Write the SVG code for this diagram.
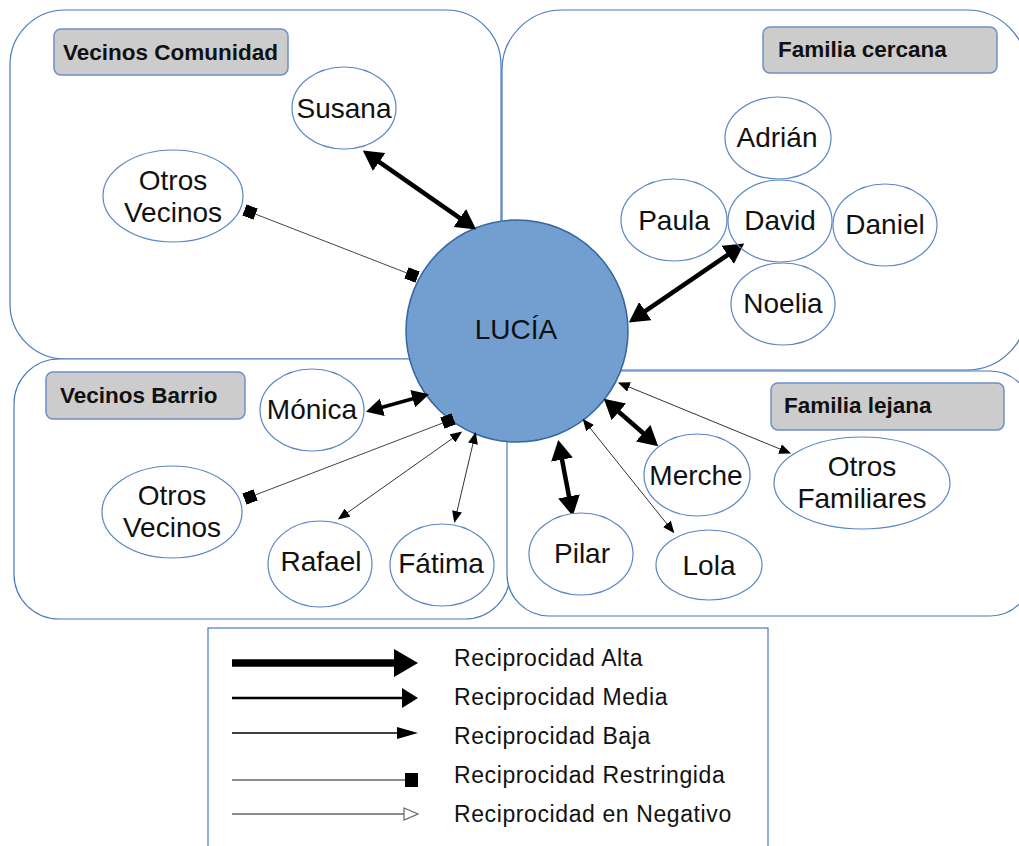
<svg xmlns="http://www.w3.org/2000/svg" width="1019" height="846" viewBox="0 0 1019 846">
<style>
.panel{fill:#fff;stroke:#4a78be;stroke-width:1.2}
.tag{fill:#cccccc;stroke:#6d8fc7;stroke-width:1.5}
.tagt{font-family:"Liberation Sans",Arial,sans-serif;font-weight:bold;font-size:22.5px;fill:#111}
.node{fill:#fff;stroke:#5b86c5;stroke-width:1.2}
.nt{font-family:"Liberation Sans",Arial,sans-serif;font-size:28px;fill:#111;text-anchor:middle}
.lt{font-family:"Liberation Sans",Arial,sans-serif;font-size:23px;letter-spacing:0.6px;fill:#111}
.alta{stroke:#000;stroke-width:4.5;fill:none;marker-start:url(#hAlta);marker-end:url(#hAlta)}
.media{stroke:#000;stroke-width:3.5;fill:none;marker-start:url(#hMed);marker-end:url(#hMed)}
.baja{stroke:#333;stroke-width:1;fill:none;marker-start:url(#hBaja);marker-end:url(#hBaja)}
.restr{stroke:#444;stroke-width:1;fill:none;marker-start:url(#sq);marker-end:url(#sq)}
</style>
<defs>
<marker id="hAlta" viewBox="0 0 20 22" markerWidth="20" markerHeight="22" refX="1" refY="11" orient="auto-start-reverse" markerUnits="userSpaceOnUse"><path d="M0,0 L20,11 L0,22 z" fill="#000"/></marker>
<marker id="hMed" viewBox="0 0 17 18" markerWidth="17" markerHeight="18" refX="1" refY="9" orient="auto-start-reverse" markerUnits="userSpaceOnUse"><path d="M0,0 L17,9 L0,18 z" fill="#000"/></marker>
<marker id="hBaja" viewBox="0 0 12 10" markerWidth="12" markerHeight="10" refX="1" refY="5" orient="auto-start-reverse" markerUnits="userSpaceOnUse"><path d="M0,0 L12,5 L0,10 z" fill="#000"/></marker>
<marker id="sq" viewBox="0 0 12 12" markerWidth="12" markerHeight="12" refX="6" refY="6" orient="auto" markerUnits="userSpaceOnUse"><rect x="0" y="0" width="12" height="12" fill="#000"/></marker>
<marker id="lAlta" viewBox="0 0 24 28" markerWidth="24" markerHeight="28" refX="1" refY="14" orient="auto" markerUnits="userSpaceOnUse"><path d="M0,0 L24,14 L0,28 z" fill="#000"/></marker>
<marker id="lMed" viewBox="0 0 16 20" markerWidth="16" markerHeight="20" refX="1" refY="10" orient="auto" markerUnits="userSpaceOnUse"><path d="M0,0 L16,10 L0,20 z" fill="#000"/></marker>
<marker id="lBaja" viewBox="0 0 21 12" markerWidth="21" markerHeight="12" refX="1" refY="6" orient="auto" markerUnits="userSpaceOnUse"><path d="M0,0 L21,6 L0,12 z" fill="#000"/></marker>
<marker id="lSq" viewBox="0 0 13 14" markerWidth="13" markerHeight="14" refX="0" refY="7" orient="auto" markerUnits="userSpaceOnUse"><rect x="0" y="0" width="13" height="14" fill="#000"/></marker>
<marker id="lNeg" viewBox="-1 -1 16 14" markerWidth="16" markerHeight="14" refX="0" refY="6" orient="auto" markerUnits="userSpaceOnUse"><path d="M0,0 L14,6 L0,12 z" fill="#fff" stroke="#666" stroke-width="1.2"/></marker>
</defs>
<rect width="1019" height="846" fill="#fff"/>

<g id="panels">
  <rect class="panel" x="10" y="10" width="491" height="349" rx="55"/>
  <rect class="panel" x="502" y="10" width="525" height="360" rx="60"/>
  <rect class="panel" x="14" y="359" width="496" height="260" rx="45"/>
  <rect class="panel" x="507" y="371" width="525" height="245" rx="42"/>
</g>

<g id="tag-vecinos-comunidad">
  <rect class="tag" x="54" y="29" width="234" height="46" rx="7"/>
  <text class="tagt" x="63" y="60">Vecinos Comunidad</text>
</g>
<g id="tag-familia-cercana">
  <rect class="tag" x="763" y="27" width="234" height="46" rx="7"/>
  <text class="tagt" x="778" y="57">Familia cercana</text>
</g>
<g id="tag-vecinos-barrio">
  <rect class="tag" x="46" y="372" width="199" height="47" rx="7"/>
  <text class="tagt" x="60" y="403">Vecinos Barrio</text>
</g>
<g id="tag-familia-lejana">
  <rect class="tag" x="771" y="383" width="233" height="47" rx="7"/>
  <text class="tagt" x="784" y="413">Familia lejana</text>
</g>

<g id="legend">
  <rect x="208" y="628" width="560" height="240" fill="#fff" stroke="#4a78be" stroke-width="1.2"/>
  <line x1="232" y1="663" x2="395" y2="663" stroke="#000" stroke-width="7.5" marker-end="url(#lAlta)"/>
  <line x1="232" y1="698" x2="403" y2="698" stroke="#000" stroke-width="2.5" marker-end="url(#lMed)"/>
  <line x1="232" y1="733" x2="398" y2="733" stroke="#000" stroke-width="1.3" marker-end="url(#lBaja)"/>
  <line x1="232" y1="780" x2="405" y2="780" stroke="#666" stroke-width="1.5" marker-end="url(#lSq)"/>
  <line x1="232" y1="814" x2="404" y2="814" stroke="#666" stroke-width="1.5" marker-end="url(#lNeg)"/>
  <text class="lt" x="454" y="666">Reciprocidad Alta</text>
  <text class="lt" x="454" y="705">Reciprocidad Media</text>
  <text class="lt" x="454" y="744">Reciprocidad Baja</text>
  <text class="lt" x="454" y="783">Reciprocidad Restringida</text>
  <text class="lt" x="454" y="822">Reciprocidad en Negativo</text>
</g>

<g id="node-lucia">
  <circle cx="517" cy="331" r="111" fill="#729fcf" stroke="#3465a4" stroke-width="1.5"/>
  <text class="nt" x="516" y="339">LUCÍA</text>
</g>

<g id="connectors">
  <line class="alta" x1="378.4" y1="161.4" x2="460.6" y2="218.6"/>
  <line class="alta" x1="728.5" y1="254.3" x2="644.5" y2="311.7"/>
  <line class="alta" x1="561.8" y1="458.6" x2="569.2" y2="497.4"/>
  <line class="alta" x1="618.1" y1="411.2" x2="643.9" y2="433.8"/>
  <line class="media" x1="381.4" y1="407.5" x2="413.6" y2="398.5"/>
  <line class="baja" x1="346.8" y1="513.1" x2="453.2" y2="437.9"/>
  <line class="baja" x1="456.8" y1="512.3" x2="473.2" y2="442.7"/>
  <line class="baja" x1="589.5" y1="427.4" x2="667.5" y2="524.6"/>
  <line class="baja" x1="628.1" y1="386.6" x2="780.9" y2="449.4"/>
  <line class="restr" x1="250" y1="212" x2="412" y2="275"/>
  <line class="restr" x1="250" y1="497" x2="448" y2="421"/>
</g>

<g id="node-susana"><ellipse class="node" cx="344" cy="108" rx="52" ry="41"/><text class="nt" x="344" y="118">Susana</text></g>
<g id="node-otros-vecinos-comunidad"><ellipse class="node" cx="173" cy="196" rx="70" ry="46"/><text class="nt" x="173" y="190">Otros</text><text class="nt" x="173" y="222">Vecinos</text></g>
<g id="node-adrian"><ellipse class="node" cx="778" cy="138" rx="53" ry="41"/><text class="nt" x="777" y="147">Adrián</text></g>
<g id="node-paula"><ellipse class="node" cx="674" cy="220" rx="53" ry="41"/><text class="nt" x="674" y="230">Paula</text></g>
<g id="node-daniel"><ellipse class="node" cx="885" cy="225" rx="52" ry="41"/><text class="nt" x="885" y="234">Daniel</text></g>
<g id="node-noelia"><ellipse class="node" cx="783" cy="304" rx="52" ry="41"/><text class="nt" x="783" y="313">Noelia</text></g>
<g id="node-david"><ellipse class="node" cx="780" cy="221" rx="52" ry="41" fill-opacity="0"/><text class="nt" x="780" y="230">David</text></g>
<g id="node-monica"><ellipse class="node" cx="312" cy="410" rx="52" ry="41"/><text class="nt" x="312" y="419">Mónica</text></g>
<g id="node-otros-vecinos-barrio"><ellipse class="node" cx="172" cy="512" rx="70" ry="46"/><text class="nt" x="172" y="505">Otros</text><text class="nt" x="172" y="537">Vecinos</text></g>
<g id="node-rafael"><ellipse class="node" cx="320" cy="564" rx="52" ry="43"/><text class="nt" x="321" y="571">Rafael</text></g>
<g id="node-fatima"><ellipse class="node" cx="442" cy="565" rx="52" ry="41"/><text class="nt" x="441" y="573">Fátima</text></g>
<g id="node-merche"><ellipse class="node" cx="697" cy="475" rx="53" ry="41"/><text class="nt" x="696" y="485">Merche</text></g>
<g id="node-otros-familiares"><ellipse class="node" cx="862" cy="483" rx="88" ry="46"/><text class="nt" x="862" y="476">Otros</text><text class="nt" x="862" y="508">Familiares</text></g>
<g id="node-pilar"><ellipse class="node" cx="581" cy="554" rx="52" ry="41"/><text class="nt" x="582" y="563">Pilar</text></g>
<g id="node-lola"><ellipse class="node" cx="709" cy="565" rx="53" ry="35"/><text class="nt" x="709" y="575">Lola</text></g>
</svg>
